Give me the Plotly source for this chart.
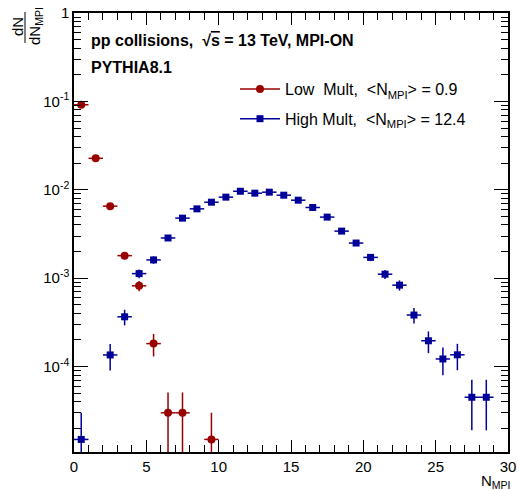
import plotly.graph_objects as go

# ---------------- data ----------------
x_low = [0.5, 1.5, 2.5, 3.5, 4.5, 5.5, 6.5, 7.5, 9.5]
y_low = [0.0916, 0.0227, 0.00653, 0.0018, 8.2e-4, 1.82e-4, 3.0e-5, 3.0e-5, 1.5e-5]
ey_low = [1.17e-3, 5.8e-4, 3.1e-4, 1.6e-4, 1.1e-4, 5.2e-5, 2.1e-5, 2.1e-5, 1.5e-5]

x_high = [0.5, 2.5, 3.5, 4.5, 5.5, 6.5, 7.5, 8.5, 9.5, 10.5, 11.5, 12.5, 13.5, 14.5,
          15.5, 16.5, 17.5, 18.5, 19.5, 20.5, 21.5, 22.5, 23.5, 24.5, 25.5, 26.5, 27.5, 28.5]
y_high = [1.5e-5, 1.355e-4, 3.66e-4, 1.127e-3, 1.61e-3, 2.85e-3, 4.78e-3, 6.09e-3, 7.24e-3,
          8.26e-3, 9.63e-3, 9.16e-3, 9.4e-3, 8.69e-3, 7.63e-3, 6.31e-3, 4.91e-3, 3.41e-3,
          2.50e-3, 1.72e-3, 1.11e-3, 8.34e-4, 3.83e-4, 1.96e-4, 1.22e-4, 1.36e-4, 4.5e-5, 4.5e-5]
ey_high = [1.5e-5, 4.5e-5, 7.3e-5, 1.3e-4, 1.55e-4, 2.07e-4, 2.68e-4, 3.0e-4, 3.3e-4,
           3.5e-4, 3.8e-4, 3.7e-4, 3.75e-4, 3.6e-4, 3.4e-4, 3.1e-4, 2.7e-4, 2.3e-4,
           1.9e-4, 1.6e-4, 1.3e-4, 1.1e-4, 7.6e-5, 5.4e-5, 4.2e-5, 4.5e-5, 2.6e-5, 2.6e-5]
bin_half = 0.5

y_tickvals = [1e-4, 1e-3, 1e-2, 1e-1, 1]
y_ticktext = ["10<sup>-4</sup>", "10<sup>-3</sup>", "10<sup>-2</sup>", "10<sup>-1</sup>", "1"]
x_tickvals = [0, 5, 10, 15, 20, 25, 30]

label_low = "Low\u00a0 Mult,\u00a0 &lt;N<sub>MPI</sub>&gt; = 0.9"
label_high = "High Mult,\u00a0 &lt;N<sub>MPI</sub>&gt; = 12.4"

RED = "#990000"
BLUE = "#000099"
FONT = "Liberation Sans, Arial, sans-serif"

fig = go.Figure()

fig.add_trace(go.Scatter(
    x=x_low, y=y_low, mode="markers", showlegend=False,
    marker=dict(symbol="circle", size=8, color=RED),
    error_y=dict(type="data", array=ey_low, color=RED, thickness=1.5, width=0),
    error_x=dict(type="constant", value=bin_half, color=RED, thickness=1.5, width=0),
))
fig.add_trace(go.Scatter(
    x=x_high, y=y_high, mode="markers", showlegend=False,
    marker=dict(symbol="square", size=7, color=BLUE),
    error_y=dict(type="data", array=ey_high, color=BLUE, thickness=1.5, width=0),
    error_x=dict(type="constant", value=bin_half, color=BLUE, thickness=1.5, width=0),
))
# legend entries (line + marker like ROOT "lp")
fig.add_trace(go.Scatter(x=[None], y=[None], mode="lines+markers", name=label_low,
                         legendgroup="low",
                         marker=dict(symbol="circle", size=8, color=RED),
                         line=dict(color=RED, width=1.5)))
fig.add_trace(go.Scatter(x=[None], y=[None], mode="lines+markers", name=label_high,
                         legendgroup="high",
                         marker=dict(symbol="square", size=7, color=BLUE),
                         line=dict(color=BLUE, width=1.5)))

minor_y = [m * 10.0 ** k for k in range(-5, 0) for m in range(2, 10)]

fig.update_xaxes(
    range=[0, 30], showline=True, linecolor="black", linewidth=1.5, mirror="ticks",
    ticks="inside", ticklen=12, tickwidth=1, tickcolor="black",
    tickvals=x_tickvals, showgrid=False, zeroline=False, automargin=False,
    tickfont=dict(family=FONT, size=15, color="black"),
    minor=dict(dtick=1, tick0=0, ticks="inside", ticklen=7, tickcolor="black", tickwidth=1),
)
fig.update_yaxes(
    type="log", range=[-4.966, 0], showline=True, linecolor="black", linewidth=1.5,
    mirror="ticks", ticks="inside", ticklen=14, tickwidth=1, tickcolor="black",
    tickvals=y_tickvals, ticktext=y_ticktext, showgrid=False, zeroline=False, automargin=False,
    tickfont=dict(family=FONT, size=15, color="black"),
    minor=dict(tickmode="array", tickvals=minor_y, ticks="inside", ticklen=7,
               tickcolor="black", tickwidth=1),
)

L, R, T, B = 74, 11, 13, 38
W, H = 519, 490
pw, ph = W - L - R, H - T - B


def px(xp):
    return (xp - L) / pw


def py(yp):
    return (H - B - yp) / ph


annos = [
    dict(text="<b>pp collisions,\u00a0 √<span style='text-decoration:overline'>s</span> = 13 TeV, MPI-ON</b>",
         x=px(89), y=py(40), xanchor="left", yanchor="middle", font=dict(size=16)),
    dict(text="<b>PYTHIA8.1</b>", x=px(89), y=py(67), xanchor="left", yanchor="middle",
         font=dict(size=16)),
    dict(text="N<sub>MPI</sub>", x=px(513), y=py(482), xanchor="right", yanchor="middle",
         font=dict(size=15)),
    dict(text="dN", x=px(18), y=py(27), xanchor="center", yanchor="middle", textangle=-90,
         font=dict(size=15)),
    dict(text="dN<sub>MPI</sub>", x=px(36), y=py(26), xanchor="center", yanchor="middle",
         textangle=-90, font=dict(size=15)),
]
for a in annos:
    a.update(xref="paper", yref="paper", showarrow=False)
    a["font"].update(family=FONT, color="black")

fig.update_layout(
    width=W, height=H, margin=dict(l=L, r=R, t=T, b=B, autoexpand=False),
    paper_bgcolor="white", plot_bgcolor="white",
    annotations=annos,
    shapes=[dict(type="line", xref="paper", yref="paper", x0=px(25), x1=px(25),
                 y0=py(12), y1=py(43), line=dict(color="black", width=1))],
    legend=dict(x=px(235), y=py(72), xanchor="left", yanchor="top",
                font=dict(family=FONT, size=16, color="black"),
                bgcolor="rgba(0,0,0,0)", itemwidth=40, tracegroupgap=6),
    showlegend=True,
)

fig.write_html("out.html", config={"displayModeBar": False},
               post_script="document.body.style.margin='0';document.body.style.overflow='hidden';")
